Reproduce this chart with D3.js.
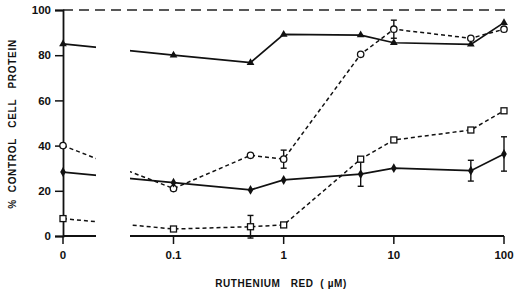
<!DOCTYPE html>
<html>
<head>
<meta charset="utf-8">
<script src="https://cdn.jsdelivr.net/npm/d3@7.9.0/dist/d3.min.js"></script>
<style>
  body { margin: 0; background: #fff; }
  svg { display: block; }
  text { font-family: "Liberation Sans", Arial, sans-serif; font-weight: bold; fill: #111; }
</style>
</head>
<body>
<svg id="chart" width="516" height="294"></svg>
<script>
// concentrations (uM); 0 sits left of the axis break
const conc = [0, 0.1, 0.5, 1, 5, 10, 50, 100];

// % control cell protein
const triangles = [85, 80, 76.7, 89.2, 88.9, 85.5, 84.8, 94.4];
const circles   = [40, 21, 35.7, 34, 80.4, 91.5, 87.5, 91.5];
const squares   = [7.7, 3.1, 4.1, 4.9, 34, 42.5, 46.9, 55.4];
const diamonds  = [28.3, 23.6, 20.4, 24.8, 27.4, 30, 28.9, 36.3];

// error bars (+/-), 0 = none drawn
const circleErr  = [0, 0, 0, 4, 0, 4, 0, 0];
const squareErr  = [0, 0, 5, 0, 0, 0, 0, 0];
const diamondErr = [0, 0, 0, 0, 5.4, 0, 4.6, 7.6];

const yTicks = [0, 20, 40, 60, 80, 100];
const xTicks = [0, 0.1, 1, 10, 100];
const xTickLabels = ["0", "0.1", "1", "10", "100"];

const svg = d3.select("#chart");

const y = d3.scaleLinear().domain([0, 100]).range([236, 10]);
const xLog = d3.scaleLog().domain([0.1, 100]).range([173.5, 504]);
const xZero = 63;
const x = v => v === 0 ? xZero : xLog(v);

// the gap in the x axis
const breakL = 96, breakR = 130;

svg.append("defs").append("clipPath").attr("id", "gap")
  .selectAll("rect")
  .data([[0, breakL], [breakR, 516]])
  .join("rect")
  .attr("x", d => d[0]).attr("y", 0)
  .attr("width", d => d[1] - d[0]).attr("height", 294);

// 100% reference line
svg.append("line")
  .attr("x1", xZero).attr("x2", 506)
  .attr("y1", y(100)).attr("y2", y(100))
  .attr("stroke", "#222").attr("stroke-width", 1.3)
  .attr("stroke-dasharray", "10,6");

// y axis
const yAxis = svg.append("g")
  .attr("transform", `translate(${xZero},0)`)
  .call(d3.axisLeft(y).tickValues(yTicks).tickSize(8).tickPadding(4));
yAxis.select(".domain").attr("stroke", "#111").attr("stroke-width", 1.8);
yAxis.selectAll(".tick line").attr("stroke", "#111").attr("stroke-width", 1.5);
yAxis.selectAll(".tick text").attr("font-size", 11.5).attr("fill", "#111")
  .attr("font-family", "Liberation Sans, Arial, sans-serif").attr("font-weight", "bold");

// x axis (broken)
const xAxisG = svg.append("g");
[[xZero, breakL], [breakR, xLog(100)]].forEach(s => {
  xAxisG.append("line")
    .attr("x1", s[0]).attr("x2", s[1])
    .attr("y1", y(0)).attr("y2", y(0))
    .attr("stroke", "#111").attr("stroke-width", 1.8);
});
xTicks.forEach((t, i) => {
  xAxisG.append("line")
    .attr("x1", x(t)).attr("x2", x(t))
    .attr("y1", y(0)).attr("y2", y(0) + 8)
    .attr("stroke", "#111").attr("stroke-width", 1.5);
  xAxisG.append("text")
    .attr("x", x(t)).attr("y", 259)
    .attr("text-anchor", "middle").attr("font-size", 11.5)
    .text(xTickLabels[i]);
});

// axis titles
svg.append("text")
  .attr("x", 281).attr("y", 287)
  .attr("text-anchor", "middle").attr("font-size", 10)
  .attr("letter-spacing", 0.6)
  .style("white-space", "pre")
  .text("RUTHENIUM   RED  ( \u00B5M)");

svg.append("text")
  .attr("transform", "translate(16,124) rotate(-90)")
  .attr("text-anchor", "middle").attr("font-size", 10)
  .attr("letter-spacing", 0.7)
  .style("white-space", "pre")
  .text("%  CONTROL   CELL   PROTEIN");

// series
const series = [
  { vals: triangles, err: null, dash: null, mark: "triangle" },
  { vals: circles, err: circleErr, dash: "4,3", mark: "circle" },
  { vals: squares, err: squareErr, dash: "4,3", mark: "square" },
  { vals: diamonds, err: diamondErr, dash: null, mark: "diamond" }
];

const line = d3.line().x(d => x(d[0])).y(d => y(d[1]));

series.forEach(s => {
  const pts = conc.map((c, i) => [c, s.vals[i]]);
  svg.append("path")
    .attr("d", line(pts))
    .attr("clip-path", "url(#gap)")
    .attr("fill", "none").attr("stroke", "#111")
    .attr("stroke-width", s.dash ? 1.5 : 1.7)
    .attr("stroke-dasharray", s.dash);
});

series.forEach(s => {
  const g = svg.append("g");
  conc.forEach((c, i) => {
    const e = s.err ? s.err[i] : 0;
    if (!e) return;
    const cx = x(c);
    g.append("line").attr("x1", cx).attr("x2", cx)
      .attr("y1", y(s.vals[i] + e)).attr("y2", y(s.vals[i] - e))
      .attr("stroke", "#111").attr("stroke-width", 1.4);
    [s.vals[i] + e, s.vals[i] - e].forEach(v => {
      g.append("line").attr("x1", cx - 3).attr("x2", cx + 3)
        .attr("y1", y(v)).attr("y2", y(v))
        .attr("stroke", "#111").attr("stroke-width", 1.4);
    });
  });
});

series.forEach(s => {
  const g = svg.append("g");
  conc.forEach((c, i) => {
    const cx = x(c), cy = y(s.vals[i]);
    if (s.mark === "circle") {
      g.append("circle").attr("cx", cx).attr("cy", cy).attr("r", 3.2)
        .attr("fill", "#fff").attr("stroke", "#111").attr("stroke-width", 1.3);
    } else if (s.mark === "square") {
      g.append("rect").attr("x", cx - 3).attr("y", cy - 3)
        .attr("width", 6).attr("height", 6)
        .attr("fill", "#fff").attr("stroke", "#111").attr("stroke-width", 1.3);
    } else {
      const sym = s.mark === "triangle" ? d3.symbolTriangle : d3.symbolDiamond;
      g.append("path")
        .attr("transform", `translate(${cx},${cy})`)
        .attr("d", d3.symbol().type(sym).size(s.mark === "triangle" ? 26 : 28)())
        .attr("fill", "#111");
    }
  });
});
</script>
</body>
</html>
